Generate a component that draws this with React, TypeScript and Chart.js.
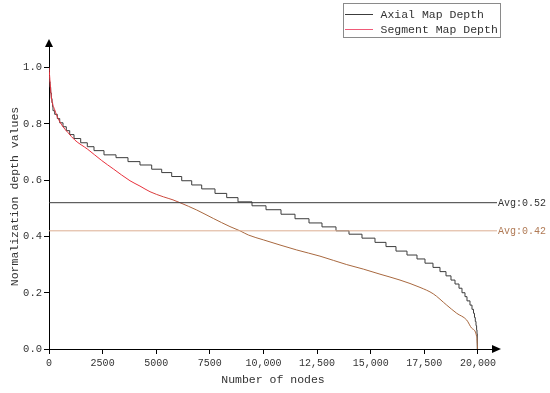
import React, { useEffect, useRef } from "react";
import { Chart, registerables } from "chart.js";

Chart.register(...registerables);

// ---- data ----
const axialNodes = [0, 23, 47, 79, 107, 140, 168, 186, 266, 387, 499, 653, 807, 965, 1166, 1478, 1786, 2098, 2564, 3124, 3683, 4242, 4788, 5254, 5720, 6187, 6653, 7119, 7739, 8284, 8811, 9464, 10117, 10816, 11469, 12121, 12727, 13380, 13986, 14592, 15198, 15711, 16177, 16690, 17156, 17529, 17902, 18228, 18508, 18741, 18928, 19114, 19254, 19394, 19487, 19627, 19720, 19790, 19837, 19874, 19907, 19935, 19953, 19967, 19981];
const axialDepth = [1.0, 0.97, 0.95, 0.93, 0.91, 0.89, 0.875, 0.861, 0.847, 0.834, 0.819, 0.804, 0.79, 0.776, 0.762, 0.748, 0.733, 0.719, 0.705, 0.69, 0.68, 0.666, 0.654, 0.639, 0.627, 0.613, 0.598, 0.583, 0.569, 0.553, 0.538, 0.523, 0.509, 0.495, 0.479, 0.463, 0.448, 0.434, 0.42, 0.408, 0.394, 0.379, 0.364, 0.348, 0.334, 0.32, 0.305, 0.29, 0.275, 0.26, 0.245, 0.231, 0.216, 0.2, 0.186, 0.171, 0.156, 0.141, 0.127, 0.112, 0.098, 0.083, 0.068, 0.054, 0];

const segmentNodes = [0, 107, 266, 420, 653, 886, 1198, 1800, 2455, 3000, 3776, 4242, 4709, 5329, 5781, 6107, 6886, 7660, 8438, 8904, 9300, 9991, 11548, 12634, 13879, 14653, 15431, 16364, 17296, 17916, 18541, 19007, 19473, 19706, 19939, 19981];
const segmentDepth = [1.0, 0.897, 0.85, 0.82, 0.79, 0.769, 0.743, 0.71, 0.67, 0.64, 0.598, 0.579, 0.559, 0.541, 0.53, 0.52, 0.494, 0.464, 0.435, 0.42, 0.405, 0.388, 0.352, 0.33, 0.3, 0.284, 0.266, 0.245, 0.219, 0.196, 0.156, 0.127, 0.103, 0.074, 0.044, 0.0];

const seriesLabels = ["Axial Map Depth", "Segment Map Depth"];
const avgValues = [0.52, 0.42];
const avgLabels = ["Avg:0.52", "Avg:0.42"];

const xTickValues = [0, 2500, 5000, 7500, 10000, 12500, 15000, 17500, 20000];
const xTickLabels = ["0", "2500", "5000", "7500", "10,000", "12,500", "15,000", "17,500", "20,000"];
const yTickValues = [0, 0.2, 0.4, 0.6, 0.8, 1.0];
const yTickLabels = ["0.0", "0.2", "0.4", "0.6", "0.8", "1.0"];

const X_MAX = 20886;
const Y_MAX = 1.084;

const FONT = "'Liberation Mono', 'DejaVu Sans Mono', monospace";
const TEXT = "#333333";
const AXIAL_COLOR = "#3c3c3c";
const SEG_RED = "#e8303c";
const SEG_BROWN = "#a8683f";
const SEG_LEGEND = "#f05a78";
const AVG_COLORS = ["#3a3a3a", "#dcae92"];
const AVG_TEXT = ["#333333", "#b07a55"];

const decorPlugin = {
  id: "decor",
  afterDraw(chart: any) {
    const { ctx, chartArea, scales } = chart;
    const { left, right, top, bottom } = chartArea;
    ctx.save();
    // arrows
    ctx.fillStyle = "#000";
    ctx.beginPath();
    ctx.moveTo(left, top - 5);
    ctx.lineTo(left - 4, top + 3);
    ctx.lineTo(left + 4, top + 3);
    ctx.closePath();
    ctx.fill();
    ctx.beginPath();
    ctx.moveTo(right + 4, bottom);
    ctx.lineTo(right - 5, bottom - 4);
    ctx.lineTo(right - 5, bottom + 4);
    ctx.closePath();
    ctx.fill();
    // average labels
    ctx.font = `10px ${FONT}`;
    ctx.textAlign = "left";
    ctx.textBaseline = "middle";
    avgValues.forEach((v, i) => {
      ctx.fillStyle = AVG_TEXT[i];
      ctx.fillText(avgLabels[i], right + 1, scales.y.getPixelForValue(v) + 0.5);
    });
    // legend
    const bx = 343.5, by = 3.5, bw = 157, bh = 34;
    ctx.strokeStyle = "#8a8a8a";
    ctx.lineWidth = 1;
    ctx.strokeRect(bx, by, bw, bh);
    const colors = [AXIAL_COLOR, SEG_LEGEND];
    ctx.font = `11.5px ${FONT}`;
    seriesLabels.forEach((lab, i) => {
      const yy = 14 + i * 15;
      ctx.strokeStyle = colors[i];
      ctx.beginPath();
      ctx.moveTo(345, yy + 0.5);
      ctx.lineTo(373, yy + 0.5);
      ctx.stroke();
      ctx.fillStyle = TEXT;
      ctx.fillText(lab, 380.5, yy + 0.5);
    });
    ctx.restore();
  },
};

export default function App() {
  const ref = useRef<HTMLCanvasElement>(null);
  useEffect(() => {
    if (!ref.current) return;
    const segColor = (c: any) => {
      const chart = c.chart;
      if (!chart.chartArea || !chart.scales.y) return SEG_RED;
      const y = chart.scales.y;
      const g = chart.ctx.createLinearGradient(0, y.getPixelForValue(0.57), 0, y.getPixelForValue(0.5));
      g.addColorStop(0, SEG_RED);
      g.addColorStop(1, SEG_BROWN);
      return g;
    };
    const chart = new Chart(ref.current, {
      type: "line",
      data: {
        datasets: [
          ...avgValues.map((v, i) => ({
            label: avgLabels[i],
            data: [{ x: 0, y: v }, { x: X_MAX, y: v }],
            borderColor: AVG_COLORS[i],
            borderWidth: 1,
            pointRadius: 0,
          })),
          {
            label: seriesLabels[1],
            data: segmentNodes.map((x, i) => ({ x, y: segmentDepth[i] })),
            borderColor: segColor,
            borderWidth: 1,
            pointRadius: 0,
            cubicInterpolationMode: "monotone" as const,
          },
          {
            label: seriesLabels[0],
            data: axialNodes.map((x, i) => ({ x, y: axialDepth[i] })),
            borderColor: AXIAL_COLOR,
            borderWidth: 1,
            pointRadius: 0,
            stepped: "after" as const,
          },
        ],
      },
      options: {
        animation: false,
        responsive: false,
        layout: { padding: { left: 0, right: 53, top: 44, bottom: 0 } },
        plugins: { legend: { display: false }, tooltip: { enabled: false } },
        scales: {
          x: {
            type: "linear",
            min: 0,
            max: X_MAX,
            afterBuildTicks: (s: any) => {
              s.ticks = xTickValues.map((v) => ({ value: v }));
            },
            afterFit: (s: any) => {
              s.height = 44;
            },
            ticks: {
              autoSkip: false,
              maxRotation: 0,
              padding: 3,
              color: TEXT,
              font: { family: FONT, size: 10 },
              callback: (v: any) => xTickLabels[xTickValues.indexOf(Number(v))] ?? "",
            },
            grid: { drawOnChartArea: false, drawTicks: true, tickLength: 5, color: "#000" },
            border: { display: true, color: "#000", width: 1 },
            title: {
              display: true,
              text: "Number of nodes",
              color: TEXT,
              font: { family: FONT, size: 11.5 },
              padding: { top: 0, bottom: 6 },
            },
          },
          y: {
            type: "linear",
            min: 0,
            max: Y_MAX,
            afterBuildTicks: (s: any) => {
              s.ticks = yTickValues.map((v) => ({ value: v }));
            },
            afterFit: (s: any) => {
              s.width = 49;
            },
            ticks: {
              padding: 2,
              color: TEXT,
              font: { family: FONT, size: 10.5 },
              callback: (v: any) => {
                const i = yTickValues.findIndex((t) => Math.abs(t - Number(v)) < 1e-9);
                return i >= 0 ? yTickLabels[i] : "";
              },
            },
            grid: { drawOnChartArea: false, drawTicks: true, tickLength: 5, color: "#000" },
            border: { display: true, color: "#000", width: 1 },
            title: {
              display: true,
              text: "Normalization depth values",
              color: TEXT,
              font: { family: FONT, size: 11.5 },
              padding: { top: 8, bottom: 0 },
            },
          },
        },
      },
      plugins: [decorPlugin],
    });
    return () => chart.destroy();
  }, []);
  return (
    <div style={{ position: "fixed", left: 0, top: 0, width: 550, height: 393, background: "#fff" }}>
      <canvas ref={ref} width={550} height={393} style={{ width: 550, height: 393, display: "block" }} />
    </div>
  );
}
